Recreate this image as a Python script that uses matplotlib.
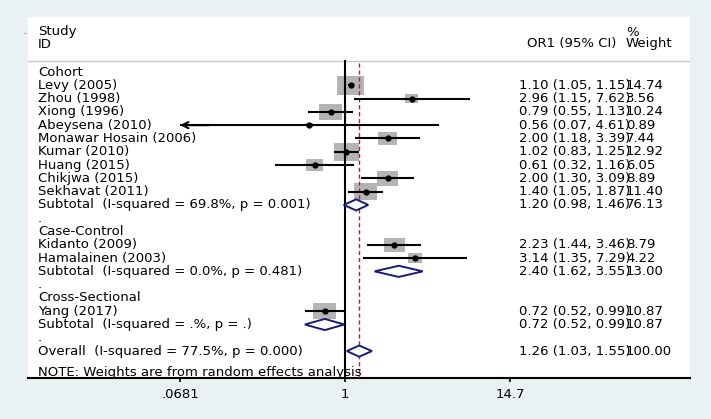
import numpy as np
import matplotlib.pyplot as plt
import matplotlib.transforms as mtransforms

plt.rcParams['font.family'] = ['DejaVu Sans']

# 데이터
groups = ['Cohort', 'Case-Control', 'Cross-Sectional']
study = ['Levy (2005)', 'Zhou (1998)', 'Xiong (1996)', 'Abeysena (2010)',
         'Monawar Hosain (2006)', 'Kumar (2010)', 'Huang (2015)',
         'Chikjwa (2015)', 'Sekhavat (2011)',
         'Kidanto (2009)', 'Hamalainen (2003)',
         'Yang (2017)']
study_group = [0, 0, 0, 0, 0, 0, 0, 0, 0, 1, 1, 2]
es = [1.10, 2.96, 0.79, 0.56, 2.00, 1.02, 0.61, 2.00, 1.40, 2.23, 3.14, 0.72]
lo = [1.05, 1.15, 0.55, 0.07, 1.18, 0.83, 0.32, 1.30, 1.05, 1.44, 1.35, 0.52]
hi = [1.15, 7.62, 1.13, 4.61, 3.39, 1.25, 1.16, 3.09, 1.87, 3.46, 7.29, 0.99]
weight = [14.74, 3.56, 10.24, 0.89, 7.44, 12.92, 6.05, 8.89, 11.40, 8.79, 4.22, 10.87]

sub_label = ['Subtotal  (I-squared = 69.8%, p = 0.001)',
             'Subtotal  (I-squared = 0.0%, p = 0.481)',
             'Subtotal  (I-squared = .%, p = .)']
sub_es = [1.20, 2.40, 0.72]
sub_lo = [0.98, 1.62, 0.52]
sub_hi = [1.46, 3.55, 0.99]
sub_weight = [76.13, 13.00, 10.87]

overall_label = 'Overall  (I-squared = 77.5%, p = 0.000)'
overall_es, overall_lo, overall_hi, overall_weight = 1.26, 1.03, 1.55, 100.00

xticks = [0.0681, 1, 14.7]
xtick_labels = ['.0681', '1', '14.7']
note = 'NOTE: Weights are from random effects analysis'

# 색상
bg = '#eaf1f3'
box_col = '#b4b4b4'
navy = '#1a1a7a'
red = '#9b2d30'

# 행 위치 만들기
rows_txt = []   # (row, label)
study_row = []
sub_row = []
r = 0
for g, name in enumerate(groups):
    rows_txt.append((r, name))
    r += 1
    for i in range(len(study)):
        if study_group[i] == g:
            study_row.append(r)
            rows_txt.append((r, study[i]))
            r += 1
    sub_row.append(r)
    rows_txt.append((r, sub_label[g]))
    r += 1
    rows_txt.append((r, '.'))
    r += 1
overall_row = r
rows_txt.append((r, overall_label))
note_row = r + 1.6

# 그림
fig = plt.figure(figsize=(7.11, 4.19), dpi=100, facecolor=bg)
ax = fig.add_axes([28 / 711, 41 / 419, 662 / 711, 361 / 419])
ax.set_facecolor('white')

px_per_ln = 61.4      # 가로 픽셀 / ln 단위
row_px = 13.29        # 행 간격(픽셀)
ax.set_xscale('log')
ax.set_xlim(np.exp(-(345 - 28) / px_per_ln), np.exp((690 - 345) / px_per_ln))
ax.set_ylim((378 - 72) / row_px, (17 - 72) / row_px)
ybot = (378 - 72) / row_px
sep = (61 - 72) / row_px

# 박스
w = np.sqrt(np.array(weight))
half = 3.5 * w / px_per_ln
x0 = np.array(es) * np.exp(-half)
x1 = np.array(es) * np.exp(half)
h = 4.9 * w / row_px
ax.barh(study_row, x1 - x0, left=x0, height=h, color=box_col, zorder=2)

# 신뢰구간
for i in range(len(study)):
    if lo[i] <= 0.07:
        ax.hlines(study_row[i], xticks[0], hi[i], color='black', lw=1.5, zorder=3)
        ax.annotate('', xy=(xticks[0], study_row[i]), xytext=(xticks[0] * 1.6, study_row[i]),
                    arrowprops=dict(arrowstyle='->', color='black', lw=1.5,
                                    mutation_scale=11, shrinkA=0, shrinkB=0), zorder=3)
    else:
        ax.hlines(study_row[i], lo[i], hi[i], color='black', lw=1.5, zorder=3)
ax.plot(es, study_row, 'o', ms=3.5, color='black', zorder=4)

# 다이아몬드
dh = 0.42
for g in range(len(groups)):
    y = sub_row[g]
    ax.fill([sub_lo[g], sub_es[g], sub_hi[g], sub_es[g]], [y, y - dh, y, y + dh],
            facecolor='white', edgecolor=navy, lw=1.4, zorder=3)
y = overall_row
ax.fill([overall_lo, overall_es, overall_hi, overall_es], [y, y - dh, y, y + dh],
        facecolor='white', edgecolor=navy, lw=1.4, zorder=3)

# 기준선
ax.plot([1, 1], [sep, ybot], color='black', lw=1.5, zorder=2.5)
ax.plot([overall_es, overall_es], [sep + 0.15, ybot], color=red, lw=1,
        ls=(0, (3, 2)), zorder=2.6)
ax.axhline(sep, color='#c8c8c8', lw=1)

# 글자
tr = mtransforms.blended_transform_factory(ax.transAxes, ax.transData)
fs = 9.5
xl = (38 - 28) / 662
xci = (519 - 28) / 662
xw = (626 - 28) / 662
for yy, s in rows_txt:
    ax.text(xl, yy, s, transform=tr, fontsize=fs, va='center', ha='left')
ax.text(xl, (32 - 72) / row_px, 'Study', transform=tr, fontsize=fs, va='center')
ax.text(xl, (44 - 72) / row_px, 'ID', transform=tr, fontsize=fs, va='center')
ax.text((527 - 28) / 662, (44 - 72) / row_px, 'OR1 (95% CI)', transform=tr, fontsize=fs, va='center')
ax.text(xw, (32 - 72) / row_px, '%', transform=tr, fontsize=fs, va='center')
ax.text(xw, (44 - 72) / row_px, 'Weight', transform=tr, fontsize=fs, va='center')

for i in range(len(study)):
    ax.text(xci, study_row[i], f'{es[i]:.2f} ({lo[i]:.2f}, {hi[i]:.2f})', transform=tr,
            fontsize=fs, va='center')
    ax.text(xw, study_row[i], f'{weight[i]:.2f}', transform=tr, fontsize=fs, va='center')
for g in range(len(groups)):
    ax.text(xci, sub_row[g], f'{sub_es[g]:.2f} ({sub_lo[g]:.2f}, {sub_hi[g]:.2f})',
            transform=tr, fontsize=fs, va='center')
    ax.text(xw, sub_row[g], f'{sub_weight[g]:.2f}', transform=tr, fontsize=fs, va='center')
ax.text(xci, overall_row, f'{overall_es:.2f} ({overall_lo:.2f}, {overall_hi:.2f})',
        transform=tr, fontsize=fs, va='center')
ax.text(xw, overall_row, f'{overall_weight:.2f}', transform=tr, fontsize=fs, va='center')
ax.text(xl, note_row, note, transform=tr, fontsize=fs, va='center')

fig.text(23 / 711, 1 - 32 / 419, '.', fontsize=5, va='center')

# 축
for s in ['top', 'right', 'left']:
    ax.spines[s].set_visible(False)
ax.spines['bottom'].set_linewidth(1.5)
ax.set_yticks([])
ax.set_xticks(xticks)
ax.set_xticklabels(xtick_labels)
ax.minorticks_off()
ax.tick_params(axis='x', direction='out', length=3, width=1.2, pad=4, labelsize=fs)

fig.savefig('out.png', dpi=100, facecolor=bg)
